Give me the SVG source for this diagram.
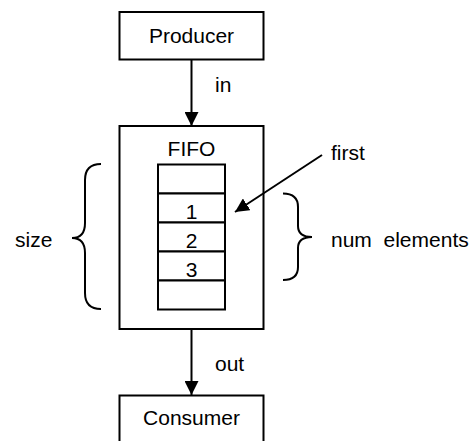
<svg xmlns="http://www.w3.org/2000/svg" width="474" height="441" viewBox="0 0 474 441">
<style>
.box{fill:#fff;stroke:#000;stroke-width:2}
.cell{fill:#fff;stroke:#000;stroke-width:2}
.ln{fill:none;stroke:#000;stroke-width:2}
text{font-family:"Liberation Sans",Arial,sans-serif;font-size:21px;fill:#000}
.c{text-anchor:middle}
</style>
<defs>
<marker id="ah" markerWidth="14" markerHeight="14" refX="14" refY="7" orient="auto" markerUnits="userSpaceOnUse">
<path d="M0,0 L14,7 L0,14 Z" fill="#000"/>
</marker>
</defs>
<g id="producer">
<rect class="box" x="119.5" y="12" width="144" height="47.5"/>
<text class="c" x="191.5" y="42.5">Producer</text>
</g>
<g id="fifo">
<rect class="box" x="119.5" y="126" width="144" height="203"/>
<text class="c" x="191.5" y="156">FIFO</text>
<rect class="cell" x="158" y="164.5" width="67" height="29"/>
<rect class="cell" x="158" y="193.5" width="67" height="29"/>
<rect class="cell" x="158" y="222.5" width="67" height="29"/>
<rect class="cell" x="158" y="251.5" width="67" height="29"/>
<rect class="cell" x="158" y="280.5" width="67" height="29"/>
<text class="c" x="191.5" y="219">1</text>
<text class="c" x="191.5" y="248">2</text>
<text class="c" x="191.5" y="276.5">3</text>
</g>
<g id="size">
<path class="ln" d="M101,164 Q85,164 85,180 L85,223 Q85,238 72,238 Q85,238 85,253 L85,293 Q85,309 101,309"/>
<text x="15" y="246.5">size</text>
</g>
<g id="first">
<text x="331" y="160">first</text>
</g>
<g id="num-elements">
<path class="ln" d="M283,193.5 Q298,193.5 298,207 L298,226 Q298,237 312,237 Q298,237 298,248 L298,267 Q298,280 283,280"/>
<text x="331" y="246.5" xml:space="preserve">num  elements</text>
</g>
<g id="consumer">
<rect class="box" x="119.5" y="395.5" width="144" height="60"/>
<text class="c" x="191.5" y="425">Consumer</text>
</g>
<g id="connectors">
<line class="ln" x1="191.5" y1="60" x2="191.5" y2="126" marker-end="url(#ah)"/>
<text x="215" y="92">in</text>
<line class="ln" x1="191.5" y1="329" x2="191.5" y2="395" marker-end="url(#ah)"/>
<text x="215" y="371">out</text>
<line class="ln" x1="322" y1="155" x2="235" y2="212" marker-end="url(#ah)"/>
</g>
</svg>
